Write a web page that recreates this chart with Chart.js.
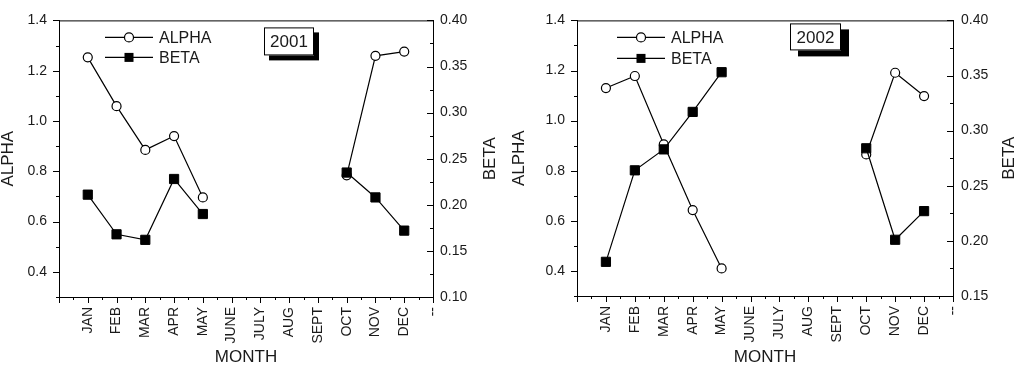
<!DOCTYPE html>
<html>
<head>
<meta charset="utf-8">
<script src="https://cdn.jsdelivr.net/npm/chart.js@4.4.0/dist/chart.umd.min.js"></script>
<style>
  html, body { margin: 0; padding: 0; background: #fff; }
  #wrap { position: relative; width: 1016px; height: 369px; overflow: hidden; }
  .panel { position: absolute; top: 0; width: 508px; height: 369px; }
</style>
</head>
<body>
<div id="wrap">
  <div class="panel" style="left:0"><canvas id="chart2001" width="508" height="369"></canvas></div>
  <div class="panel" style="left:508px"><canvas id="chart2002" width="508" height="369"></canvas></div>
</div>
<script>
var monthLabels = ['JAN', 'FEB', 'MAR', 'APR', 'MAY', 'JUNE', 'JULY', 'AUG', 'SEPT', 'OCT', 'NOV', 'DEC', '--'];
var alpha2001 = [1.253, 1.059, 0.885, 0.940, 0.696, null, null, null, null, 0.784, 1.259, 1.276];
var beta2001 = [0.211, 0.168, 0.162, 0.228, 0.190, null, null, null, null, 0.235, 0.208, 0.172];
var alpha2002 = [1.130, 1.178, 0.905, 0.643, 0.410, null, null, null, null, 0.865, 1.191, 1.098];
var beta2002 = [0.181, 0.264, 0.283, 0.317, 0.353, null, null, null, null, 0.284, 0.201, 0.227];
var alphaTicks = [0.4, 0.6, 0.8, 1.0, 1.2, 1.4];
var beta2001Ticks = [0.10, 0.15, 0.20, 0.25, 0.30, 0.35, 0.40];
var beta2002Ticks = [0.15, 0.20, 0.25, 0.30, 0.35, 0.40];

var FONT = "'Liberation Sans', Arial, sans-serif";
var TXT = '#1a1a1a';

function toPoints(arr) {
    return arr.map(function (v, i) { return { x: i + 1, y: v }; });
}

// marco, ticks menores, leyenda, caja del año y titulo BETA
var framePlugin = {
    id: 'frame',
    afterDraw: function (chart) {
        var ctx = chart.ctx;
        var a = chart.chartArea;
        var o = chart.options.plugins.frame;
        var sx = chart.scales.x, sy = chart.scales.y, sy2 = chart.scales.y2;
        ctx.save();
        ctx.strokeStyle = '#000';
        ctx.lineWidth = 1;
        ctx.beginPath();
        ctx.moveTo(a.left, a.top + 0.5);
        ctx.lineTo(a.right, a.top + 0.5);
        // eje x: mayores en enteros, menores en medios
        for (var k = 0; k <= 26; k++) {
            var px = Math.round(sx.getPixelForValue(k / 2)) + 0.5;
            var len = k % 2 === 0 ? 6 : 3;
            ctx.moveTo(px, a.bottom);
            ctx.lineTo(px, a.bottom + len);
        }
        // eje izquierdo, hacia fuera
        for (var j = 3; j <= 14; j++) {
            var py = Math.round(sy.getPixelForValue(j / 10)) + 0.5;
            var l = j % 2 === 0 ? 6 : 3;
            ctx.moveTo(a.left, py);
            ctx.lineTo(a.left - l, py);
        }
        // eje derecho, hacia dentro
        var lo = Math.round(sy2.min * 40), hi = Math.round(sy2.max * 40);
        for (var m = lo; m <= hi; m++) {
            var py2 = Math.round(sy2.getPixelForValue(m / 40)) + 0.5;
            var l2 = m % 2 === 0 ? 6 : 3;
            ctx.moveTo(a.right, py2);
            ctx.lineTo(a.right - l2, py2);
        }
        ctx.stroke();

        // leyenda
        ctx.font = '16px ' + FONT;
        ctx.textBaseline = 'middle';
        ctx.textAlign = 'left';
        chart.data.datasets.forEach(function (ds, i) {
            var ly = a.top + o.legendY[i];
            var x0 = a.left + o.legendX;
            var xm = x0 + 24;
            ctx.strokeStyle = ds.borderColor;
            ctx.lineWidth = ds.borderWidth;
            ctx.beginPath();
            ctx.moveTo(x0, ly);
            ctx.lineTo(x0 + 48, ly);
            ctx.stroke();
            if (ds.pointStyle === 'rect') {
                ctx.fillStyle = ds.pointBackgroundColor;
                ctx.fillRect(xm - 4.5, ly - 4.5, 9, 9);
            } else {
                ctx.beginPath();
                ctx.arc(xm, ly, ds.pointRadius, 0, Math.PI * 2);
                ctx.fillStyle = ds.pointBackgroundColor;
                ctx.fill();
                ctx.stroke();
            }
            ctx.fillStyle = TXT;
            ctx.fillText(ds.label, x0 + 54, ly + 1);
        });

        // caja del año con sombra
        var bx = a.left + o.boxX, by = a.top + o.boxY;
        ctx.fillStyle = '#000';
        ctx.fillRect(bx + o.shadow[0], by + o.shadow[1], o.boxW, o.boxH);
        ctx.fillStyle = '#fff';
        ctx.fillRect(bx, by, o.boxW, o.boxH);
        ctx.strokeStyle = '#000';
        ctx.lineWidth = 1;
        ctx.strokeRect(bx + 0.5, by + 0.5, o.boxW - 1, o.boxH - 1);
        ctx.fillStyle = TXT;
        ctx.font = '17px ' + FONT;
        ctx.textAlign = 'center';
        ctx.fillText(o.year, bx + o.boxW / 2, by + o.boxH / 2 + 1);

        // titulo del eje derecho, leido de abajo hacia arriba
        ctx.translate(o.betaX, (a.top + a.bottom) / 2);
        ctx.rotate(-Math.PI / 2);
        ctx.font = '17px ' + FONT;
        ctx.fillText('BETA', 0, 0);
        ctx.restore();
    }
};

function makeChart(id, alpha, beta, betaTicks, betaMin, p) {
    var ctx = document.getElementById(id).getContext('2d');
    return new Chart(ctx, {
        type: 'line',
        data: {
            datasets: [{
                label: 'ALPHA',
                data: toPoints(alpha),
                yAxisID: 'y',
                order: 1,
                borderColor: '#000',
                borderWidth: 1.2,
                pointStyle: 'circle',
                pointRadius: 4.5,
                pointBackgroundColor: '#fff',
                pointBorderColor: '#000',
                pointBorderWidth: 1.2,
                spanGaps: false
            }, {
                label: 'BETA',
                data: toPoints(beta),
                yAxisID: 'y2',
                order: 0,
                borderColor: '#000',
                borderWidth: 1.2,
                pointStyle: 'rect',
                pointRadius: 6.5,
                pointBackgroundColor: '#000',
                pointBorderColor: '#000',
                pointBorderWidth: 1,
                spanGaps: false
            }]
        },
        options: {
            responsive: false,
            animation: false,
            layout: { padding: { top: 15, left: 0, right: 0, bottom: 0 } },
            plugins: {
                legend: { display: false },
                tooltip: { enabled: false },
                frame: p
            },
            scales: {
                x: {
                    type: 'linear',
                    min: 0,
                    max: 13,
                    afterBuildTicks: function (s) {
                        s.ticks = monthLabels.map(function (m, i) { return { value: i + 1 }; });
                    },
                    afterFit: function (s) { s.height = p.xHeight; },
                    grid: { drawOnChartArea: false, drawTicks: false },
                    border: { color: '#000', width: 1 },
                    ticks: {
                        autoSkip: false,
                        minRotation: 90,
                        maxRotation: 90,
                        padding: 10,
                        color: TXT,
                        font: { family: FONT, size: 14 },
                        callback: function (v) { return monthLabels[v - 1]; }
                    },
                    title: {
                        display: true,
                        text: 'MONTH',
                        color: TXT,
                        font: { family: FONT, size: 17, lineHeight: 1 },
                        padding: { top: 0, bottom: 3.5 }
                    }
                },
                y: {
                    position: 'left',
                    min: 0.3,
                    max: 1.4,
                    afterBuildTicks: function (s) {
                        s.ticks = alphaTicks.map(function (v) { return { value: v }; });
                    },
                    afterFit: function (s) { s.width = p.yWidth; },
                    grid: { drawOnChartArea: false, drawTicks: false },
                    border: { color: '#000', width: 1 },
                    ticks: {
                        padding: 12,
                        color: TXT,
                        font: { family: FONT, size: 14 },
                        callback: function (v) { return v.toFixed(1); }
                    },
                    title: {
                        display: true,
                        text: 'ALPHA',
                        color: TXT,
                        font: { family: FONT, size: 17, lineHeight: 1 },
                        padding: { top: p.alphaPad, bottom: 0 }
                    }
                },
                y2: {
                    position: 'right',
                    min: betaMin,
                    max: 0.40,
                    afterBuildTicks: function (s) {
                        s.ticks = betaTicks.map(function (v) { return { value: v }; });
                    },
                    afterFit: function (s) { s.width = p.y2Width; },
                    grid: { drawOnChartArea: false, drawTicks: false },
                    border: { color: '#000', width: 1 },
                    ticks: {
                        padding: p.y2Pad,
                        color: TXT,
                        font: { family: FONT, size: 14 },
                        callback: function (v) { return v.toFixed(2); }
                    }
                }
            }
        },
        plugins: [framePlugin]
    });
}

makeChart('chart2001', alpha2001, beta2001, beta2001Ticks, 0.10, {
    year: '2001', xHeight: 72, yWidth: 59, y2Width: 75, y2Pad: 7, alphaPad: 0,
    legendX: 46, legendY: [17, 37], boxX: 205, boxY: 7, boxW: 50, boxH: 28,
    shadow: [5, 5], betaX: 490
});
makeChart('chart2002', alpha2002, beta2002, beta2002Ticks, 0.15, {
    year: '2002', xHeight: 73, yWidth: 69, y2Width: 63, y2Pad: 8, alphaPad: 3,
    legendX: 40, legendY: [17, 38], boxX: 213, boxY: 3, boxW: 51, boxH: 27,
    shadow: [8, 6], betaX: 501
});
</script>
</body>
</html>
